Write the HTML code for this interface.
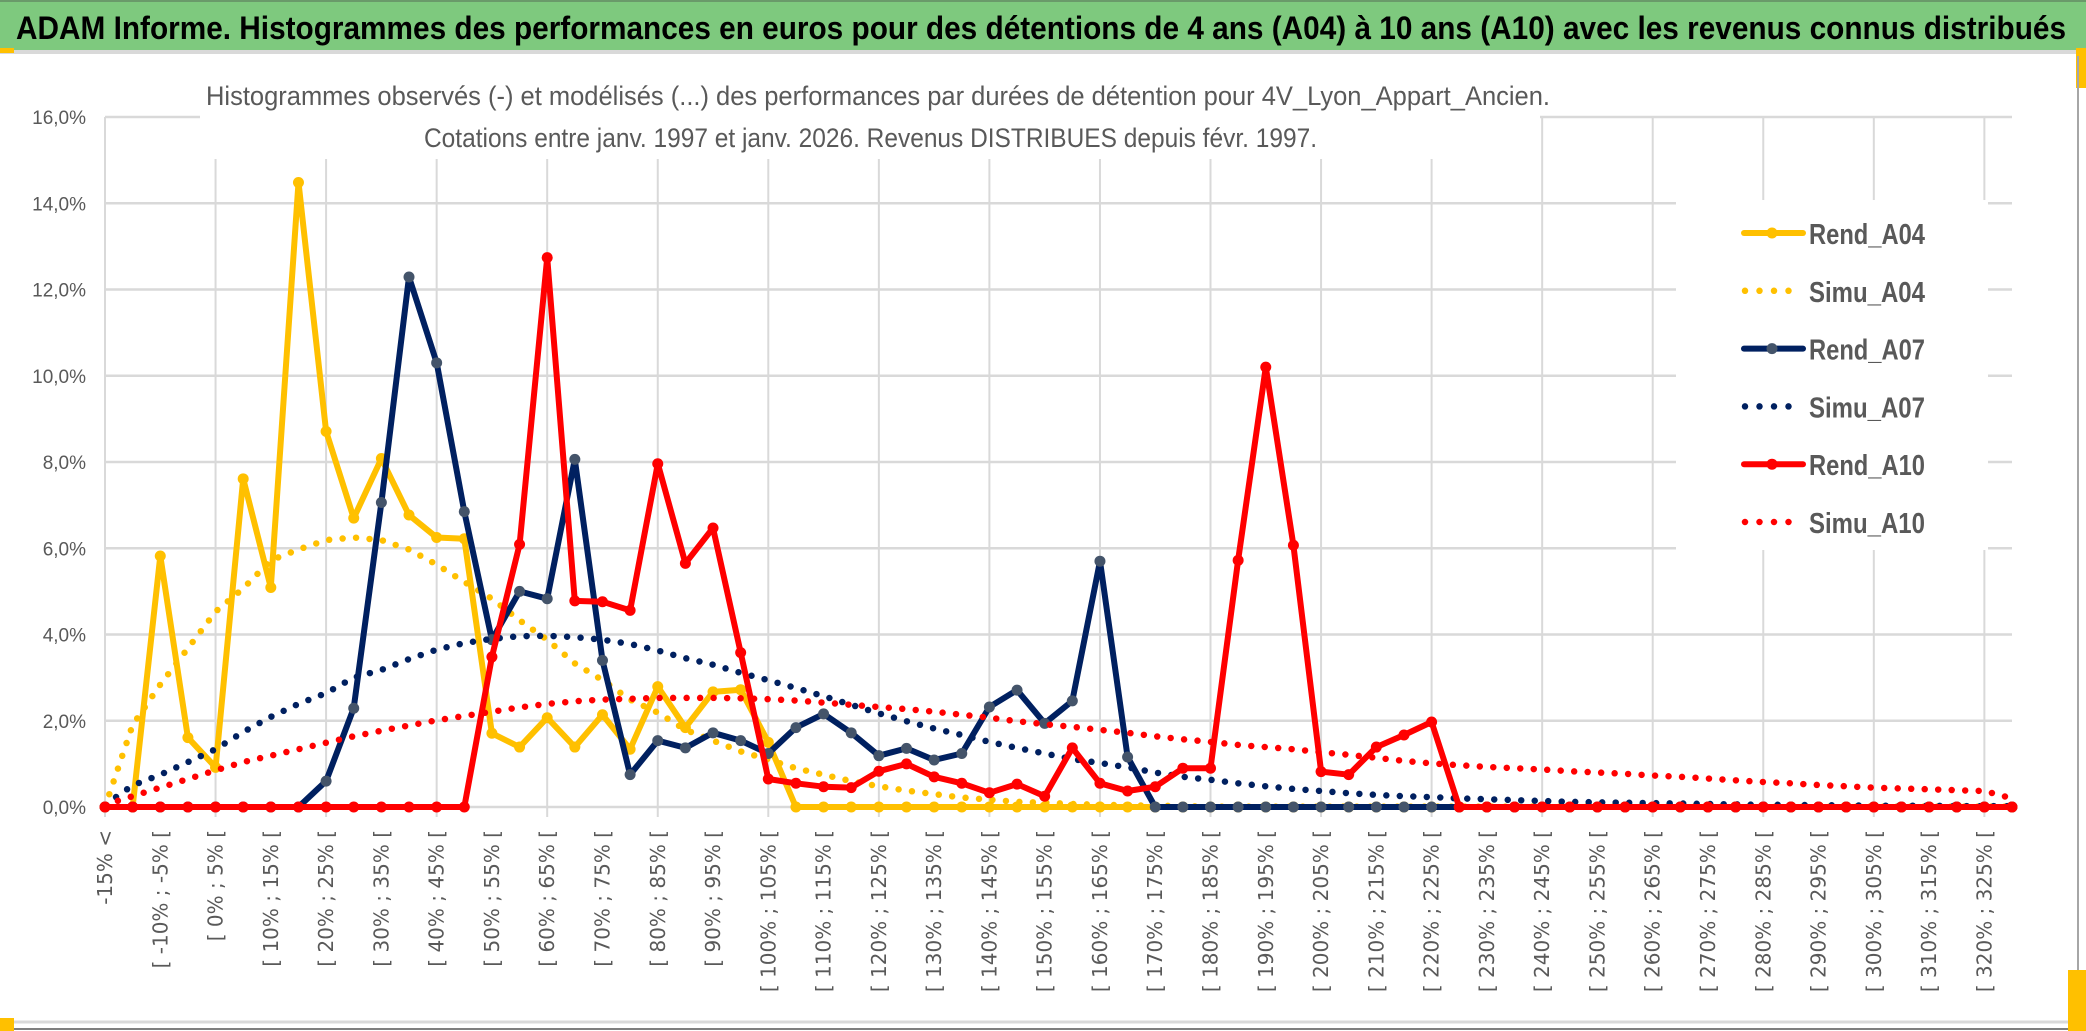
<!DOCTYPE html>
<html><head><meta charset="utf-8"><style>
html,body{margin:0;padding:0;background:#fff;}
svg{display:block;}
</style></head><body>
<svg id="chart" xmlns="http://www.w3.org/2000/svg" width="2086" height="1031" viewBox="0 0 2086 1031" font-family="'Liberation Sans', sans-serif">
<rect x="0" y="0" width="2086" height="1031" fill="#ffffff"/>
<rect x="0" y="0" width="2086" height="50" fill="#7ec97e"/>
<rect x="0" y="0" width="2086" height="2" fill="#6a9a6a"/>
<text x="16" y="39" font-size="32" font-weight="bold" fill="#000" textLength="2050" lengthAdjust="spacingAndGlyphs">ADAM Informe. Histogrammes des performances en euros pour des détentions de 4 ans (A04) à 10 ans (A10) avec les revenus connus distribués</text>
<rect x="0" y="50" width="2086" height="4" fill="#d9d9d9"/>
<rect x="0" y="48" width="14" height="5" fill="#ffc000"/>
<rect x="2076" y="48" width="10" height="40" fill="#ffc000"/>
<line x1="2078" y1="56" x2="2078" y2="1025" stroke="#a6a6a6" stroke-width="2"/>
<line x1="0" y1="1022" x2="2078" y2="1022" stroke="#d9d9d9" stroke-width="3"/>
<line x1="0" y1="1029" x2="2086" y2="1029" stroke="#7f7f7f" stroke-width="2"/>
<rect x="0" y="1018" width="14" height="13" fill="#ffc000"/>
<rect x="2068" y="970" width="18" height="61" fill="#ffc000"/>
<g id="grid"></g>
<rect x="200" y="60" width="1340" height="99" fill="#fff"/>
<rect x="1676" y="200" width="312" height="350" fill="#fff"/>
<g id="ylabels"></g>
<g id="xlabels"></g>
<g id="series"></g>
<text x="206" y="105" font-size="27" fill="#595959" textLength="1344" lengthAdjust="spacingAndGlyphs">Histogrammes observés (-) et modélisés (...) des performances par durées de détention pour 4V_Lyon_Appart_Ancien.</text>
<text x="424" y="147" font-size="27" fill="#595959" textLength="893" lengthAdjust="spacingAndGlyphs">Cotations entre janv. 1997 et janv. 2026. Revenus DISTRIBUES depuis févr. 1997.</text>
<g id="legend"></g>
</svg>
<script>
const yTicks = [0,2,4,6,8,10,12,14,16];
const yTickLabels = ["0,0%","2,0%","4,0%","6,0%","8,0%","10,0%","12,0%","14,0%","16,0%"];
const rendA04 = [0,0,5.82,1.61,0.92,7.61,5.09,14.48,8.71,6.70,8.08,6.77,6.25,6.22,1.71,1.39,2.07,1.39,2.14,1.34,2.79,1.84,2.67,2.72,1.50,0,0,0,0,0,0,0,0,0,0,0,0,0,0,0,0,0,0,0,0,0,0,0,0,0,0,0,0,0,0,0,0,0,0,0,0,0,0,0,0,0,0,0,0,0];
const simuA04 = [0,1.9,2.84,3.68,4.53,5.07,5.72,5.97,6.19,6.25,6.19,5.97,5.62,5.22,4.83,4.33,3.88,3.33,2.94,2.49,2.19,1.79,1.54,1.29,1.1,0.9,0.75,0.6,0.48,0.38,0.3,0.22,0.17,0.12,0.1,0.07,0.05,0.04,0.03,0.02,0.01,0.01,0.01,0.01,0.01,0.01,0.01,0.01,0.01,0.01,0.01,0.01,0.01,0.01,0.01,0.01,0.01,0.01,0.01,0.01,0.01,0.01,0.01,0.01,0.01,0.01,0.01,0.01,0.01,0.01];
const rendA07 = [0,0,0,0,0,0,0,0,0.6,2.29,7.06,12.29,10.3,6.85,3.88,5.0,4.83,8.06,3.40,0.75,1.54,1.37,1.72,1.54,1.24,1.84,2.16,1.72,1.19,1.36,1.09,1.24,2.32,2.71,1.94,2.46,5.70,1.16,0,0,0,0,0,0,0,0,0,0,0,0,0,0,0,0,0,0,0,0,0,0,0,0,0,0,0,0,0,0,0,0];
const simuA07 = [0.05,0.5,0.75,1.04,1.34,1.74,2.09,2.39,2.64,3.0,3.18,3.43,3.65,3.8,3.9,3.96,3.97,3.94,3.88,3.78,3.63,3.45,3.3,3.11,2.94,2.76,2.57,2.37,2.17,1.99,1.82,1.67,1.51,1.37,1.24,1.11,1.02,0.92,0.8,0.7,0.63,0.55,0.48,0.42,0.37,0.32,0.28,0.25,0.23,0.2,0.18,0.16,0.14,0.12,0.11,0.1,0.09,0.08,0.07,0.06,0.05,0.05,0.04,0.04,0.03,0.03,0.03,0.02,0.02,0.02];
const rendA10 = [0,0,0,0,0,0,0,0,0,0,0,0,0,0,3.48,6.09,12.74,4.78,4.76,4.56,7.96,5.65,6.47,3.58,0.65,0.55,0.47,0.45,0.83,1.0,0.7,0.55,0.33,0.53,0.25,1.37,0.55,0.37,0.47,0.9,0.9,5.72,10.2,6.07,0.82,0.75,1.39,1.67,1.97,0,0,0,0,0,0,0,0,0,0,0,0,0,0,0,0,0,0,0,0,0];
const simuA10 = [0.05,0.25,0.45,0.65,0.85,1.04,1.19,1.34,1.49,1.64,1.77,1.89,2.01,2.11,2.21,2.31,2.39,2.45,2.49,2.51,2.53,2.53,2.53,2.52,2.5,2.47,2.42,2.37,2.32,2.27,2.21,2.14,2.07,1.99,1.92,1.86,1.79,1.72,1.64,1.57,1.51,1.44,1.39,1.34,1.27,1.21,1.14,1.07,1.01,0.97,0.93,0.9,0.87,0.83,0.8,0.77,0.73,0.7,0.66,0.62,0.58,0.55,0.51,0.48,0.45,0.43,0.41,0.39,0.37,0.2];
const categories = ["-15% <"];
for (let k = 1; k < 70; k++) { categories.push("[ " + (-20 + 5 * k) + "% ; " + (-15 + 5 * k) + "% ["); }

const NS = "http://www.w3.org/2000/svg";
const X0 = 105, X1 = 2012, Y0 = 807, YTOP = 117;
function xs(i) { return X0 + (X1 - X0) * i / (categories.length - 1); }
function ys(v) { return Y0 - (Y0 - YTOP) * v / 16; }
function mk(tag, attrs, parent) {
  const e = document.createElementNS(NS, tag);
  for (const k in attrs) e.setAttribute(k, attrs[k]);
  parent.appendChild(e);
  return e;
}
const grid = document.getElementById('grid');
yTicks.forEach(function (t, j) {
  const l = mk('line', {x1: X0, x2: X1, y1: ys(t), y2: ys(t), stroke: '#d9d9d9', 'stroke-width': 2.5}, grid);
  
  
});
for (let i = 0; i < categories.length; i += 4) {
  const l = mk('line', {x1: xs(i), x2: xs(i), y1: ys(16), y2: Y0 + 10, stroke: '#d9d9d9', 'stroke-width': 2}, grid);
  
  
}
const yl = document.getElementById('ylabels');
yTicks.forEach(function (t, j) {
  const tx = mk('text', {x: 86, y: ys(t) + 7, 'text-anchor': 'end', 'font-size': 19, fill: '#595959'}, yl);
  tx.textContent = yTickLabels[j];
  
  
});
const xl = document.getElementById('xlabels');
for (let i = 0; i < categories.length; i += 2) {
  const x = xs(i) + 7;
  const tx = mk('text', {x: x, y: 830, transform: 'rotate(-90 ' + x + ' 830)', 'text-anchor': 'end', 'font-size': 20, fill: '#595959', 'font-family': "'DejaVu Sans', sans-serif"}, xl);
  tx.textContent = categories[i];
  
  
}
const sg = document.getElementById('series');
function pts(arr) { return arr.map(function (v, i) { return xs(i).toFixed(1) + ',' + ys(v).toFixed(1); }).join(' '); }
function solid(arr, color, mcolor, name) {
  const g = mk('g', {}, sg);
  
  
  const pl = mk('polyline', {points: pts(arr), fill: 'none', stroke: color, 'stroke-width': 6, 'stroke-linejoin': 'round'}, g);
  
  
  arr.forEach(function (v, i) {
    const c = mk('circle', {cx: xs(i), cy: ys(v), r: 5.5, fill: mcolor}, g);
    
    
  });
}
function dotted(arr, color, name) {
  const pl = mk('polyline', {points: pts(arr), fill: 'none', stroke: color, 'stroke-width': 6.5, 'stroke-linecap': 'round', 'stroke-dasharray': '0 13.5'}, sg);
  
  
}
solid(rendA04, '#ffc000', '#ffc000', 'rend-a04');
dotted(simuA04, '#ffc000', 'simu-a04');
solid(rendA07, '#002060', '#44546a', 'rend-a07');
dotted(simuA07, '#002060', 'simu-a07');
solid(rendA10, '#ff0000', '#ff0000', 'rend-a10');
dotted(simuA10, '#ff0000', 'simu-a10');

const legendNames = ["Rend_A04","Simu_A04","Rend_A07","Simu_A07","Rend_A10","Simu_A10"];
const legendColors = ['#ffc000','#ffc000','#002060','#002060','#ff0000','#ff0000'];
const legendMarker = ['#ffc000',null,'#44546a',null,'#ff0000',null];
const lg = document.getElementById('legend');
legendNames.forEach(function (n, k) {
  const y = 233 + k * 57.8;
  const g = mk('g', {}, lg);
  
  
  if (legendMarker[k]) {
    mk('line', {x1: 1744, x2: 1803, y1: y, y2: y, stroke: legendColors[k], 'stroke-width': 6, 'stroke-linecap': 'round'}, g);
    mk('circle', {cx: 1772, cy: y, r: 5.5, fill: legendMarker[k]}, g);
  } else {
    mk('line', {x1: 1745, x2: k === 5 ? 1801 : 1790, y1: y, y2: y, stroke: legendColors[k], 'stroke-width': 6.5, 'stroke-linecap': 'round', 'stroke-dasharray': '0 14.5'}, g);
  }
  const t = mk('text', {x: 1809, y: y + 11, 'font-size': 29, 'font-weight': 'bold', fill: '#595959', textLength: 116, lengthAdjust: 'spacingAndGlyphs'}, g);
  t.textContent = n;
});
</script>
</body></html>
